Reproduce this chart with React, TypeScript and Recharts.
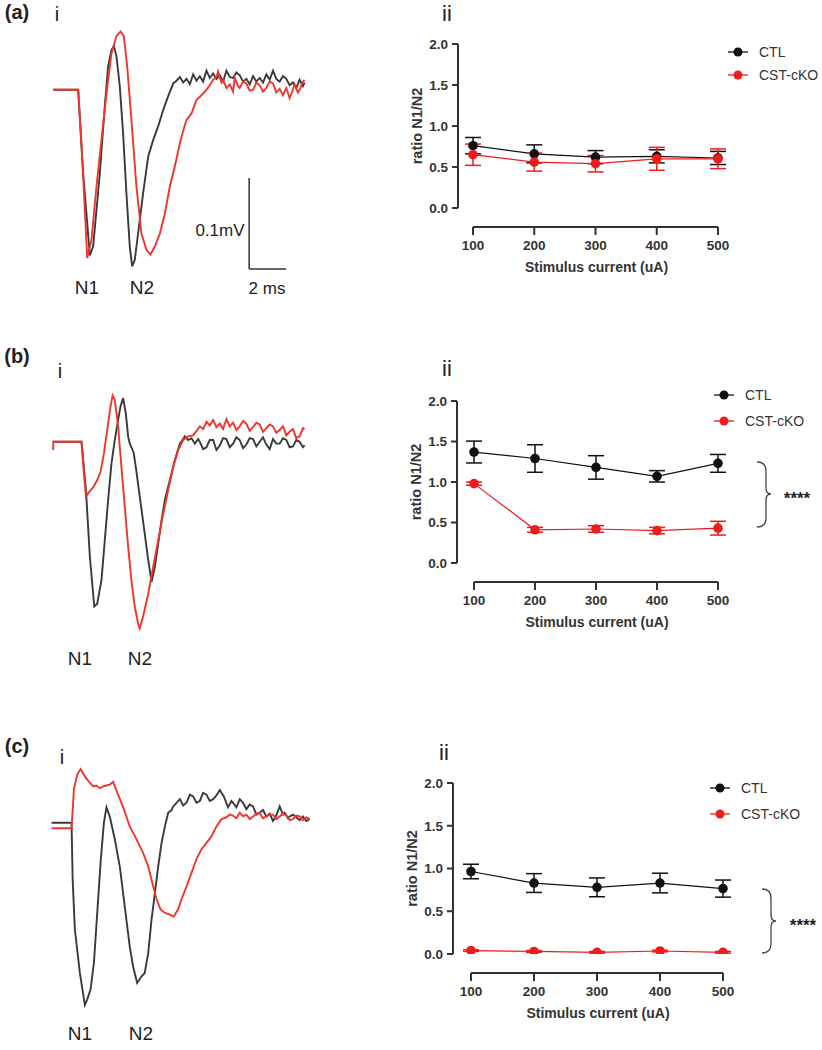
import {
  LineChart,
  Line,
  XAxis,
  YAxis,
  ErrorBar,
  ReferenceLine,
  Label,
} from "recharts";

// stimulus currents (uA) and ratio axis ticks
const CURRENTS = [100, 200, 300, 400, 500];
const RATIO_TICKS = [0, 0.5, 1, 1.5, 2];
const SERIES_NAMES = ["CTL", "CST-cKO"];

// (a) ii  ratio N1/N2, mean and SEM
const CTL_A = [0.76, 0.66, 0.62, 0.63, 0.61];
const CTL_A_ERR = [0.1, 0.11, 0.08, 0.08, 0.08];
const CKO_A = [0.65, 0.56, 0.54, 0.6, 0.6];
const CKO_A_ERR = [0.13, 0.11, 0.1, 0.14, 0.12];

// (b) ii
const CTL_B = [1.37, 1.29, 1.18, 1.07, 1.23];
const CTL_B_ERR = [0.135, 0.17, 0.145, 0.07, 0.11];
const CKO_B = [0.98, 0.41, 0.42, 0.4, 0.43];
const CKO_B_ERR = [0.02, 0.03, 0.04, 0.04, 0.085];

// (c) ii
const CTL_C = [0.965, 0.83, 0.78, 0.83, 0.765];
const CTL_C_ERR = [0.085, 0.11, 0.11, 0.115, 0.1];
const CKO_C = [0.04, 0.03, 0.02, 0.035, 0.02];
const CKO_C_ERR = [0.01, 0.01, 0.01, 0.01, 0.01];

// CAP traces, [time ms, amplitude uV]
const TRACE_A_CTL = [
  [0, 0], [1.35, 0], [1.62, -92], [1.98, -182], [2.16, -172], [2.52, -92], [2.79, -18],
  [2.97, 26], [3.15, 44], [3.28, 48], [3.42, 37], [3.6, 4], [3.78, -48], [3.96, -114],
  [4.14, -172], [4.27, -194], [4.41, -187], [4.59, -158], [4.86, -114], [5.14, -73],
  [5.41, -55], [5.68, -40], [5.95, -22], [6.22, -7], [6.49, 7], [6.67, 10], [6.85, 14],
  [7.03, 8], [7.21, 12], [7.39, 6], [7.57, 17], [7.75, 10], [7.93, 15], [8.11, 9],
  [8.29, 21], [8.47, 13], [8.65, 18], [8.83, 12], [9.01, 16], [9.19, 9], [9.37, 21],
  [9.55, 14], [9.73, 13], [9.91, 19], [10.09, 16], [10.27, 9], [10.45, 12], [10.63, 6],
  [10.81, 15], [10.99, 9], [11.17, 13], [11.35, 8], [11.53, 17], [11.71, 11], [11.89, 21],
  [12.07, 12], [12.25, 9], [12.43, 15], [12.61, 12], [12.79, 5], [12.97, 8], [13.15, 2],
  [13.33, 11], [13.51, 4], [13.6, 8],
];
const TRACE_A_CKO = [
  [0, 0], [1.35, 0], [1.59, -84], [1.84, -185], [2.07, -165], [2.34, -106], [2.61, -55],
  [2.88, -4], [3.15, 40], [3.42, 59], [3.64, 64], [3.82, 59], [4.0, 26], [4.23, -33],
  [4.5, -106], [4.77, -158], [5.05, -176], [5.26, -181], [5.5, -172], [5.77, -158],
  [6.04, -136], [6.31, -106], [6.58, -84], [6.85, -59], [7.03, -45], [7.21, -33],
  [7.48, -26], [7.75, -11], [8.02, -6], [8.29, 0], [8.47, 5], [8.65, 11], [8.83, 14],
  [8.92, 20], [9.1, 8], [9.19, 11], [9.37, 2], [9.55, 6], [9.73, -2], [9.82, 13],
  [10.0, 4], [10.09, 2], [10.27, 9], [10.45, 7], [10.63, -1], [10.81, 0], [10.99, 8],
  [11.17, 5], [11.35, -2], [11.53, 2], [11.71, 9], [11.89, 7], [12.07, -3], [12.25, 1],
  [12.43, -6], [12.61, 2], [12.79, -9], [12.97, 0], [13.06, 6], [13.24, -3], [13.33, 0],
  [13.51, 9], [13.6, 11],
];
const TRACE_B_CTL = [
  [0, 0], [1.53, 0], [1.77, -53], [1.98, -126], [2.22, -181], [2.38, -178], [2.61, -152],
  [2.79, -108], [2.97, -64], [3.15, -24], [3.33, 2], [3.51, 24], [3.64, 39], [3.78, 48],
  [3.93, 31], [4.05, 6], [4.14, -2], [4.23, -6], [4.35, -12], [4.47, -28], [4.68, -60],
  [4.95, -101], [5.14, -130], [5.32, -154], [5.5, -137], [5.68, -112], [5.86, -86],
  [6.04, -64], [6.31, -42], [6.58, -20], [6.85, -2], [7.03, 3], [7.12, 6], [7.3, 2],
  [7.48, 4], [7.66, -2], [7.84, 3], [7.93, 0], [8.11, -8], [8.29, -6], [8.47, 2],
  [8.65, 2], [8.83, -9], [9.01, -4], [9.19, 4], [9.37, 3], [9.55, -6], [9.73, -2],
  [9.91, 5], [10.09, 2], [10.27, -7], [10.45, -3], [10.63, 4], [10.81, 3], [10.99, -5],
  [11.17, 0], [11.35, 5], [11.53, -3], [11.71, -8], [11.89, 3], [12.07, -2], [12.25, -2],
  [12.43, 4], [12.61, 2], [12.79, -6], [12.97, -5], [13.15, 2], [13.33, 0], [13.51, -6],
  [13.6, -4],
];
const TRACE_B_CKO = [
  [0, -9], [0, 0], [1.53, 0], [1.66, -35], [1.77, -60], [1.95, -55], [2.16, -50],
  [2.38, -42], [2.56, -33], [2.74, -13], [2.92, 13], [3.1, 39], [3.21, 51], [3.33, 46],
  [3.51, 17], [3.69, -28], [3.87, -71], [4.05, -115], [4.23, -152], [4.41, -181],
  [4.59, -200], [4.68, -205], [4.86, -192], [5.14, -167], [5.41, -137], [5.68, -108],
  [5.95, -79], [6.22, -53], [6.49, -28], [6.76, -9], [7.03, 2], [7.3, 6], [7.57, 7],
  [7.75, 12], [7.93, 17], [8.11, 14], [8.29, 22], [8.47, 18], [8.65, 24], [8.83, 16],
  [9.01, 20], [9.19, 14], [9.37, 25], [9.55, 17], [9.73, 21], [9.91, 13], [10.09, 17],
  [10.27, 23], [10.45, 20], [10.63, 12], [10.81, 16], [10.99, 21], [11.17, 19],
  [11.35, 11], [11.53, 15], [11.71, 19], [11.89, 17], [12.07, 10], [12.25, 13],
  [12.43, 17], [12.61, 7], [12.79, 11], [12.97, 14], [13.15, 4], [13.33, 6], [13.51, 15],
  [13.6, 14],
];
const TRACE_C_CTL = [
  [-0.09, 0], [0.99, 0], [1.05, -62], [1.17, -117], [1.44, -165], [1.71, -200],
  [1.84, -194], [2.02, -183], [2.2, -154], [2.38, -99], [2.56, -44], [2.74, 0],
  [2.88, 17], [3.06, 7], [3.33, -18], [3.6, -48], [3.87, -92], [4.14, -136], [4.32, -158],
  [4.54, -176], [4.77, -169], [4.95, -165], [5.14, -143], [5.32, -106], [5.5, -77],
  [5.68, -48], [5.86, -22], [6.04, -4], [6.22, 11], [6.4, 14], [6.49, 18], [6.67, 22],
  [6.85, 26], [7.03, 19], [7.21, 22], [7.39, 31], [7.57, 29], [7.75, 22], [7.93, 24],
  [8.11, 33], [8.29, 31], [8.47, 24], [8.65, 26], [8.83, 30], [9.01, 36], [9.23, 29],
  [9.46, 17], [9.64, 24], [9.73, 22], [9.91, 17], [10.09, 26], [10.27, 22], [10.45, 15],
  [10.63, 20], [10.81, 18], [10.99, 9], [11.17, 11], [11.35, 14], [11.53, 7], [11.71, 10],
  [11.89, 2], [12.07, 8], [12.25, 18], [12.43, 9], [12.52, 11], [12.7, 5], [12.79, 7],
  [12.97, 9], [13.15, 6], [13.33, 3], [13.51, 7], [13.69, 2], [13.87, 4],
];
const TRACE_C_CKO = [
  [-0.09, -6], [0.99, -6], [1.12, 37], [1.3, 53], [1.48, 59], [1.71, 51], [1.98, 44],
  [2.16, 40], [2.34, 41], [2.52, 38], [2.7, 40], [2.88, 41], [3.06, 42], [3.24, 45],
  [3.39, 37], [3.57, 28], [3.82, 15], [4.14, -4], [4.5, -18], [4.86, -33], [5.14, -48],
  [5.41, -70], [5.59, -84], [5.8, -95], [6.04, -99], [6.31, -101], [6.52, -103],
  [6.76, -95], [6.94, -84], [7.21, -70], [7.48, -55], [7.75, -40], [8.02, -29],
  [8.29, -22], [8.56, -15], [8.83, -4], [9.1, 4], [9.37, 6], [9.55, 9], [9.73, 8],
  [9.91, 5], [10.09, 11], [10.27, 7], [10.45, 9], [10.63, 4], [10.81, 7], [10.99, 10],
  [11.17, 11], [11.35, 5], [11.53, 7], [11.71, 9], [11.89, 9], [12.07, 4], [12.25, 7],
  [12.43, 10], [12.61, 8], [12.79, 3], [12.97, 4], [13.15, 8], [13.33, 7], [13.51, 3],
  [13.69, 6], [13.87, 4],
];

// scale bar: 2 ms x 100 uV
const SCALE_MS = 2;
const SCALE_UV = 100;
const SCALE_ORIGIN = { t: 10.6, v: -197 };

// styles
const FONT = '"Liberation Sans", Arial, Helvetica, sans-serif';
const AXIS = "#333333";
const TRACE_BLACK = "#3a3a3a";
const TRACE_RED = "#f2342c";
const DOT_BLACK = "#111111";
const DOT_RED = "#ee1c1c";
const SERIES_COLORS = [DOT_BLACK, DOT_RED];

const TIME_DOMAIN = [-0.5, 14];
const VOLT_DOMAIN = [-220, 80];
const TRACE_LEFT = 44;
const TRACE_W = 268;
const TRACE_H = 273;

const Y_AXIS_W = 58;
const M_TOP = 10;
const M_RIGHT = 100;
const X_AXIS_H = 70;
const AXIS_GAP = 19;

const toPoints = (rows: number[][]) => rows.map(([t, v]) => ({ t, v }));

const Txt = ({ x, y, size, bold, children }: any) => (
  <div
    style={{
      position: "absolute",
      left: x,
      top: y,
      transform: "translate(-50%, -50%)",
      fontSize: size,
      fontWeight: bold ? 700 : 400,
      lineHeight: 1,
      color: "#222",
      whiteSpace: "nowrap",
    }}
  >
    {children}
  </div>
);

const TracePanel = ({ top, ctl, cko, scaleBar }: any) => (
  <div style={{ position: "absolute", left: TRACE_LEFT, top }}>
    <LineChart
      width={TRACE_W}
      height={TRACE_H}
      margin={{ top: 0, right: 0, bottom: 0, left: 0 }}
    >
      <XAxis type="number" dataKey="t" domain={TIME_DOMAIN} hide allowDataOverflow />
      <YAxis type="number" domain={VOLT_DOMAIN} hide allowDataOverflow />
      <Line
        data={toPoints(ctl)}
        dataKey="v"
        type="linear"
        stroke={TRACE_BLACK}
        strokeWidth={1.9}
        dot={false}
        isAnimationActive={false}
      />
      <Line
        data={toPoints(cko)}
        dataKey="v"
        type="linear"
        stroke={TRACE_RED}
        strokeWidth={1.9}
        dot={false}
        isAnimationActive={false}
      />
      {scaleBar && (
        <ReferenceLine
          segment={[
            { x: SCALE_ORIGIN.t, y: SCALE_ORIGIN.v },
            { x: SCALE_ORIGIN.t, y: SCALE_ORIGIN.v + SCALE_UV },
          ]}
          stroke={AXIS}
          strokeWidth={1.5}
          ifOverflow="visible"
        />
      )}
      {scaleBar && (
        <ReferenceLine
          segment={[
            { x: SCALE_ORIGIN.t, y: SCALE_ORIGIN.v },
            { x: SCALE_ORIGIN.t + SCALE_MS, y: SCALE_ORIGIN.v },
          ]}
          stroke={AXIS}
          strokeWidth={1.5}
          ifOverflow="visible"
        />
      )}
    </LineChart>
  </div>
);

const CurrentTick = ({ x, y, payload }: any) => (
  <g>
    <line
      x1={x}
      x2={x}
      y1={y + AXIS_GAP}
      y2={y + AXIS_GAP + 8}
      stroke={AXIS}
      strokeWidth={2}
    />
    <text
      x={x}
      y={y + AXIS_GAP + 18}
      dy="0.36em"
      textAnchor="middle"
      fontSize={13.5}
      fontWeight={700}
      fill={AXIS}
    >
      {payload.value}
    </text>
  </g>
);

const LegendBox = ({ x, y, gap }: any) => (
  <div style={{ position: "absolute", left: x - 10, top: y - gap / 2 }}>
    {SERIES_NAMES.map((name, i) => (
      <div
        key={name}
        style={{ display: "flex", alignItems: "center", height: gap }}
      >
        <svg width={20} height={12}>
          <line x1={0} x2={20} y1={6} y2={6} stroke={SERIES_COLORS[i]} strokeWidth={1.3} />
          <circle cx={10} cy={6} r={4.5} fill={SERIES_COLORS[i]} />
        </svg>
        <span style={{ marginLeft: 11, fontSize: 14, color: "#333" }}>{name}</span>
      </div>
    ))}
  </div>
);

const Bracket = ({ x0, xm, xp, top, mid, bot, starsX }: any) => (
  <>
    <svg
      width={822}
      height={1050}
      style={{ position: "absolute", left: 0, top: 0, pointerEvents: "none" }}
    >
      <path
        d={`M${x0},${top} Q${xm},${top} ${xm},${top + 9} L${xm},${mid - 6} Q${xm},${mid} ${xp},${mid} Q${xm},${mid} ${xm},${mid + 6} L${xm},${bot - 9} Q${xm},${bot} ${x0},${bot}`}
        fill="none"
        stroke="#444"
        strokeWidth={1.3}
      />
    </svg>
    <Txt x={starsX} y={mid + 4} size={17} bold>
      ****
    </Txt>
  </>
);

const RatioPanel = ({ ctl, ctlErr, cko, ckoErr, box }: any) => {
  const data = CURRENTS.map((c, i) => ({
    current: c,
    ctl: ctl[i],
    ctlErr: ctlErr[i],
    cko: cko[i],
    ckoErr: ckoErr[i],
  }));
  const plotH = box.bottom - box.top;
  const plotW = box.x500 - box.left;
  const padLeft = box.x100 - box.left;
  const drop = AXIS_GAP / (plotH / 2);

  return (
    <div
      style={{
        position: "absolute",
        left: box.left - Y_AXIS_W,
        top: box.top - M_TOP,
      }}
    >
      <LineChart
        width={Y_AXIS_W + plotW + M_RIGHT}
        height={M_TOP + plotH + X_AXIS_H}
        data={data}
        margin={{ top: M_TOP, right: M_RIGHT, bottom: 0, left: 0 }}
      >
        <XAxis
          type="number"
          dataKey="current"
          domain={[100, 500]}
          ticks={CURRENTS}
          interval={0}
          padding={{ left: padLeft, right: 0 }}
          axisLine={false}
          tickLine={false}
          tickSize={0}
          tickMargin={0}
          height={X_AXIS_H}
          tick={(p: any) => <CurrentTick {...p} />}
        >
          <Label
            value="Stimulus current (uA)"
            position="insideBottom"
            offset={6}
            dx={padLeft / 2 + 1}
            style={{ fontSize: 14, fontWeight: 700, fill: AXIS }}
          />
        </XAxis>
        <YAxis
          type="number"
          domain={[0, 2]}
          ticks={RATIO_TICKS}
          interval={0}
          allowDataOverflow
          width={Y_AXIS_W}
          tickFormatter={(v: number) => v.toFixed(1)}
          axisLine={{ stroke: AXIS, strokeWidth: 2 }}
          tickLine={{ stroke: AXIS, strokeWidth: 2 }}
          tickSize={6}
          tickMargin={4}
          tick={{ fontSize: 13.5, fontWeight: 700, fill: AXIS }}
          label={{
            value: "ratio N1/N2",
            angle: -90,
            position: "insideLeft",
            offset: 17,
            style: { textAnchor: "middle", fontSize: 14.5, fontWeight: 700, fill: AXIS },
          }}
        />
        <ReferenceLine
          segment={[
            { x: 100, y: -drop },
            { x: 500, y: -drop },
          ]}
          stroke={AXIS}
          strokeWidth={2}
          ifOverflow="visible"
        />
        <Line
          dataKey="ctl"
          name={SERIES_NAMES[0]}
          stroke={DOT_BLACK}
          strokeWidth={1.2}
          dot={{ r: 4.8, fill: DOT_BLACK, stroke: DOT_BLACK, strokeWidth: 0 }}
          isAnimationActive={false}
        >
          <ErrorBar dataKey="ctlErr" width={8} stroke={DOT_BLACK} strokeWidth={1.5} direction="y" />
        </Line>
        <Line
          dataKey="cko"
          name={SERIES_NAMES[1]}
          stroke={DOT_RED}
          strokeWidth={1.2}
          dot={{ r: 4.8, fill: DOT_RED, stroke: DOT_RED, strokeWidth: 0 }}
          isAnimationActive={false}
        >
          <ErrorBar dataKey="ckoErr" width={8} stroke={DOT_RED} strokeWidth={1.5} direction="y" />
        </Line>
      </LineChart>
    </div>
  );
};

export default function App() {
  return (
    <div
      style={{
        position: "absolute",
        left: 0,
        top: 0,
        width: 822,
        height: 1050,
        background: "#fff",
        fontFamily: FONT,
        overflow: "hidden",
      }}
    >
      {/* row a */}
      <Txt x={17} y={12} size={20} bold>(a)</Txt>
      <Txt x={57} y={14} size={20}>i</Txt>
      <TracePanel top={17} ctl={TRACE_A_CTL} cko={TRACE_A_CKO} scaleBar />
      <Txt x={220} y={230} size={17}>0.1mV</Txt>
      <Txt x={267} y={288} size={17}>2 ms</Txt>
      <Txt x={87} y={287} size={19}>N1</Txt>
      <Txt x={142} y={287} size={19}>N2</Txt>
      <Txt x={447} y={14} size={22}>ii</Txt>
      <RatioPanel
        ctl={CTL_A}
        ctlErr={CTL_A_ERR}
        cko={CKO_A}
        ckoErr={CKO_A_ERR}
        box={{ left: 458, top: 44, bottom: 208, x100: 473, x500: 718 }}
      />
      <LegendBox x={738} y={52} gap={23} />

      {/* row b */}
      <Txt x={17} y={356} size={20} bold>(b)</Txt>
      <Txt x={60} y={371} size={20}>i</Txt>
      <TracePanel top={369} ctl={TRACE_B_CTL} cko={TRACE_B_CKO} />
      <Txt x={80} y={658} size={19}>N1</Txt>
      <Txt x={140} y={658} size={19}>N2</Txt>
      <Txt x={447} y={369} size={22}>ii</Txt>
      <RatioPanel
        ctl={CTL_B}
        ctlErr={CTL_B_ERR}
        cko={CKO_B}
        ckoErr={CKO_B_ERR}
        box={{ left: 457, top: 401, bottom: 563, x100: 474, x500: 718 }}
      />
      <LegendBox x={724} y={395} gap={26} />
      <Bracket x0={757} xm={766} xp={771} top={462} mid={494} bot={527} starsX={797} />

      {/* row c */}
      <Txt x={17} y={746} size={20} bold>(c)</Txt>
      <Txt x={62} y={757} size={20}>i</Txt>
      <TracePanel top={750} ctl={TRACE_C_CTL} cko={TRACE_C_CKO} />
      <Txt x={80} y={1033} size={19}>N1</Txt>
      <Txt x={141} y={1033} size={19}>N2</Txt>
      <Txt x={444} y={753} size={22}>ii</Txt>
      <RatioPanel
        ctl={CTL_C}
        ctlErr={CTL_C_ERR}
        cko={CKO_C}
        ckoErr={CKO_C_ERR}
        box={{ left: 453, top: 783, bottom: 954, x100: 471, x500: 723 }}
      />
      <LegendBox x={720} y={788} gap={26} />
      <Bracket x0={762} xm={771} xp={776} top={889} mid={921} bot={953} starsX={803} />
    </div>
  );
}
